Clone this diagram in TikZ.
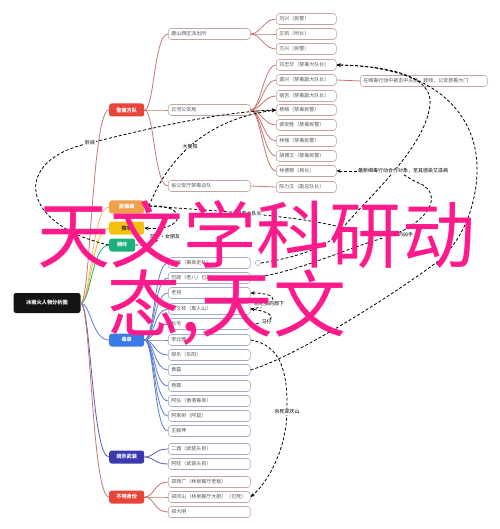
\documentclass[tikz,border=0pt]{standalone}
\usepackage{fontspec}
\setmainfont{Noto Sans CJK SC}
\usetikzlibrary{arrows.meta}
\definecolor{leafborder}{HTML}{C4A49E}
\definecolor{leafblue}{HTML}{A3AAC6}
\definecolor{leaftext}{HTML}{555555}
\definecolor{redcat}{HTML}{E9443A}
\definecolor{redline}{HTML}{C9766E}
\definecolor{orangecat}{HTML}{F0A04B}
\definecolor{yellowcat}{HTML}{F4C20D}
\definecolor{greencat}{HTML}{1DB07C}
\definecolor{bluecat}{HTML}{3B7BE8}
\definecolor{blueline}{HTML}{5B7BD6}
\definecolor{indigocat}{HTML}{3A3AAE}
\definecolor{indigoline}{HTML}{5A5AB8}
\definecolor{pinktext}{HTML}{FF1A8C}
\tikzset{
  leaf/.style={draw=leafborder, fill=white, rounded corners=3pt, line width=0.6pt,
    minimum height=11pt, inner ysep=0pt, inner xsep=3pt, anchor=west,
    font=\fontsize{5}{5.5}\selectfont, text=leaftext, align=left},
  leafA/.style={leaf, text width=76pt},
  leafB/.style={leaf, text width=54pt},
  bleaf/.style={leafA, draw=leafblue},
  cat/.style={rounded corners=2.5pt, minimum width=35pt, minimum height=13pt,
    inner sep=0pt, text=white, font=\fontsize{5.2}{6}\selectfont\bfseries, anchor=west},
  edge/.style={line width=0.8pt},
  rel/.style={dashed, dash pattern=on 3pt off 2pt, line width=0.8pt, black},
  relarr/.style={rel, -{Stealth[length=4pt,width=3.5pt]}},
  rlab/.style={font=\fontsize{5}{5.5}\selectfont, fill=white, inner sep=0.5pt, text=black},
  big/.style={font=\fontsize{73}{73}\selectfont, text=pinktext, inner sep=0pt, anchor=west}
}
\begin{document}
\begin{tikzpicture}[x=1pt,y=-1pt]
\useasboundingbox (0,0) rectangle (499,529);
\fill[white] (0,0) rectangle (499,529);

% root
\node[fill=black!92, rounded corners=2.5pt, minimum width=67pt, minimum height=20pt, inner sep=0pt,
  text=white, font=\fontsize{5.2}{6}\selectfont\bfseries] (root) at (47,303) {冰雨火人物分析图};

% categories
\node[cat, fill=redcat] (police) at (109,110) {警察方队};
\node[cat, fill=orangecat] (wu) at (109,207) {吴振峰};
\node[cat, fill=yellowcat, text=black!80] (chen) at (109,228) {陈宇};
\node[cat, fill=greencat, minimum width=26pt] (yang) at (109,245) {杨玲};
\node[cat, fill=bluecat] (drug) at (109,340) {毒枭};
\node[cat, fill=indigocat] (arm) at (109,457) {境外武装};
\node[cat, fill=redcat] (unk) at (109,497) {不明身份};

% root edges
\foreach \n/\c in {police/redline, wu/orangecat!80, chen/yellowcat, yang/greencat, drug/blueline, arm/indigoline, unk/redline}
  \draw[edge, \c] (root.east) .. controls +(10,0) and +(-17,0) .. (\n.west);

% police level 2
\node[leafA] (lushan) at (168,34) {鹿山西区派出所};
\node[leafA] (yunhe) at (168,110) {云河公安局};
\node[leafA] (sheng) at (168,186) {省公安厅禁毒总队};
\foreach \n in {lushan,yunhe,sheng}
  \draw[edge, redline] (police.east) .. controls +(10,0) and +(-14,0) .. (\n.west);

% lushan children
\node[leafB] (l1) at (276,19) {刘兴（民警）};
\node[leafB] (l2) at (276,34) {王凯（所长）};
\node[leafB] (l3) at (276,49) {方兴（民警）};
\foreach \n in {l1,l2,l3}
  \draw[edge, redline] (lushan.east) .. controls +(10,0) and +(-12,0) .. (\n.west);

% yunhe children
\node[leafB] (y1) at (276,65) {刘忠华（禁毒大队长）};
\node[leafB] (y2) at (276,80) {龚兴（禁毒副大队长）};
\node[leafB] (y3) at (276,96) {宿吉（禁毒副大队长）};
\node[leafB] (y4) at (276,110) {杨络（禁毒民警）};
\node[leafB] (y5) at (276,125) {裴安胜（禁毒民警）};
\node[leafB] (y6) at (276,141) {林强（禁毒民警）};
\node[leafB] (y7) at (276,156) {胡博文（禁毒民警）};
\node[leafB] (y8) at (276,171) {林德群（局长）};
\foreach \n in {y1,y2,y3,y4,y5,y6,y7,y8}
  \draw[edge, redline] (yunhe.east) .. controls +(10,0) and +(-12,0) .. (\n.west);

\node[leafB] (s1) at (276,187) {陈力文（副总队长）};
\draw[edge, redline] (sheng.east) -- (s1.west);

\node[leaf, text width=121pt] (y2c) at (360,81) {在缉毒行动中被击中头部，致残，公安部看大门};
\draw[edge, redline] (y2.east) -- (y2c.west);

% drug children
\node[bleaf] (d1) at (168,263) {大军（毒枭走私）};
\node[bleaf] (d2) at (168,278) {巴颜（老八）已故};
\node[bleaf] (d3) at (168,293) {老拐};
\node[bleaf] (d4) at (168,309) {宋文枝（黑人山）};
\node[bleaf] (d5) at (168,324) {长毛};
\node[bleaf] (d6) at (168,340) {李比雅};
\node[bleaf] (d7) at (168,355) {郝乐（东阳）};
\node[bleaf] (d8) at (168,370) {黄磊};
\node[bleaf] (d9) at (168,386) {杨霖};
\node[bleaf] (d10) at (168,401) {阿弘（香港毒枭）};
\node[bleaf] (d11) at (168,416) {阿家树（阿鼠）};
\node[bleaf] (d12) at (168,431) {王毅坤};
\foreach \n in {d1,d2,d3,d4,d5,d6,d7,d8,d9,d10,d11,d12}
  \draw[edge, blueline] (drug.east) .. controls +(10,0) and +(-14,0) .. (\n.west);
\draw[leafblue, fill=white, line width=0.5pt] (258,263) circle (2.6pt);

% armed
\node[bleaf] (a1) at (168,449) {二酉（武装头目）};
\node[bleaf] (a2) at (168,464) {阿旺（武装头目）};
\foreach \n in {a1,a2}
  \draw[edge, indigoline] (arm.east) .. controls +(10,0) and +(-14,0) .. (\n.west);

% unknown
\node[leafA] (u1) at (168,482) {郑西广（林泉餐厅老板）};
\node[leafA] (u2) at (168,497) {郑庆山（林泉餐厅大厨）（已死）};
\node[leafA] (u3) at (168,512) {郑大明};
\foreach \n in {u1,u2,u3}
  \draw[edge, redline] (unk.east) .. controls +(10,0) and +(-14,0) .. (\n.west);

% relationships
\coordinate (dot) at (149,206);
\fill (dot) circle (1.6pt);
\draw[relarr] (dot) .. controls (165,165) and (200,120) .. (y4.west)
  node[rlab, pos=0.5] {大曼阳};
\draw[relarr] (yang.west) .. controls (20,225) and (10,160) .. (90,143)
  node[rlab] {卧底} .. controls (150,128) and (220,112) .. (y4.west);
\draw[relarr] (dot) .. controls (190,204) and (185,232) .. (chen.east);
\draw[rel] (yang.east) .. controls (150,246) and (158,240) .. (165,237) node[rlab] {前女·女朋友};
\draw[rel] (dot) .. controls (200,210) and (300,215) .. (343,228) node[rlab, pos=0.5] {禁毒大队长};
\draw[relarr] (261,263) .. controls (300,257) and (333,245) .. (343,228)
  .. controls (360,205) and (425,150) .. (430,105)
  .. controls (433,80) and (400,66) .. (y1.east);
\draw[relarr] (d8.east) .. controls (300,355) and (400,290) .. (437,262)
  .. controls (470,235) and (478,190) .. (477,165)
  .. controls (475,110) and (430,66) .. (y1.east);
\node[rlab] (laba) at (403,171) {最新缉毒行动合作对象，至其感染艾滋病};
\draw[relarr] (laba.west) -- (y8.east);
\draw[rel] (d2.east) .. controls (300,272) and (340,250) .. (393,235)
  node[rlab] {杀害林局长的凶手}
  .. controls (420,225) and (445,200) .. (423,185)
  .. controls (412,180) .. (laba.south);
\draw[relarr] (d4.east) .. controls (280,305) and (280,293) .. (d3.east) node[rlab, pos=0.3] {杨老孩的部下};
\draw[relarr] (d5.east) .. controls (275,324) and (280,313) .. (d4.east) node[rlab, pos=0.3] {马仔};
\draw[relarr] (d6.east) .. controls (280,345) and (288,370) .. (287,412)
  node[rlab] {杀死郑庆山}
  .. controls (286,450) and (268,482) .. (u2.east);

% big title text
\node[big] (t1) at (37,235) {天文学科研动};
\node[big] (t2) at (107,308) {态,天文};
\end{tikzpicture}
\end{document}
